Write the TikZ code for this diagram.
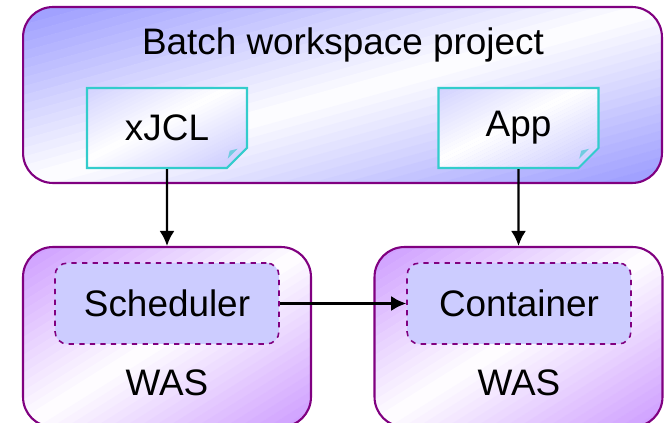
\documentclass[tikz,border=0pt]{standalone}
\usepackage{fontspec}
\setmainfont{Liberation Sans}
\usetikzlibrary{positioning}
\usetikzlibrary{shapes.misc}
\usetikzlibrary{arrows.meta}

\definecolor{plum}{RGB}{128,0,128}
\definecolor{lavblue}{RGB}{153,153,255}
\definecolor{lavpurple}{RGB}{204,153,255}
\definecolor{paleblue}{RGB}{204,204,255}
\definecolor{docline}{RGB}{51,204,204}

\tikzset{
  % corner-to-corner gradient: colour, white, colour (#2, #3 = half sizes in px)
  diag fill/.style n args={3}{path picture={
    \begin{scope}[shift={(path picture bounding box.center)}]
      \foreach \k in {0,...,39}{
        \pgfmathsetmacro\ca{-2+0.1*\k}
        \pgfmathsetmacro\cb{\ca+0.105}
        \pgfmathsetmacro\mix{abs(\ca+0.05)*50}
        \fill[#1!\mix!white]
          ({(\ca/2-2)*#2*0.5691pt},{(-\ca/2-2)*#3*0.5691pt}) --
          ({(\ca/2+2)*#2*0.5691pt},{(-\ca/2+2)*#3*0.5691pt}) --
          ({(\cb/2+2)*#2*0.5691pt},{(-\cb/2+2)*#3*0.5691pt}) --
          ({(\cb/2-2)*#2*0.5691pt},{(-\cb/2-2)*#3*0.5691pt}) -- cycle;
      }
    \end{scope}}},
  project/.style={draw=plum, line width=1.2pt, rounded corners=0.6cm,
    diag fill={lavblue}{319.5}{88},
    minimum width=12.78cm, minimum height=3.52cm},
  server/.style={draw=plum, line width=1.2pt, rounded corners=0.6cm,
    diag fill={lavpurple}{144}{90},
    minimum width=5.76cm, minimum height=3.6cm},
  doc/.style={chamfered rectangle, chamfered rectangle corners=south east,
    chamfered rectangle xsep=0.2cm, chamfered rectangle ysep=0.2cm,
    draw=docline, line width=1.2pt, diag fill={paleblue}{80}{40},
    minimum width=3.2cm, minimum height=1.6cm, font=\fontsize{21}{23}\selectfont},
  part/.style={draw=plum, dashed, line width=0.9pt, rounded corners=0.25cm,
    fill=paleblue, minimum width=4.48cm, minimum height=1.62cm,
    font=\fontsize{21}{23}\selectfont},
  big/.style={font=\fontsize{21}{23}\selectfont},
  flow/.style={-{Latex[length=0.3cm,width=0.3cm]}, line width=1.4pt}
}

\begin{document}
\begin{tikzpicture}[x=0.02cm, y=0.02cm]
  \useasboundingbox (0,0) rectangle (668,-422);
  \clip (0,0) rectangle (668,-422);

  % workspace
  \node[project] (proj) at (342.5,-95) {};
  \node[big] (title) at (343,-45) {Batch workspace project};
  \node[doc] (xjcl) at (167,-128) {xJCL};
  \node[doc] (app) at (518.5,-128) {App};
  \fill[docline!60!paleblue] (xjcl.south east) ++(0,10) -- ++(-10,-10) -- ++(2,8) -- cycle;
  \fill[docline!60!paleblue] (app.south east) ++(0,10) -- ++(-10,-10) -- ++(2,8) -- cycle;

  % servers
  \node[server] (wasl) at (167,-337) {};
  \node[server] (wasr) at (518.5,-337) {};
  \node[part] (sched) at (167,-303.5) {Scheduler};
  \node[part] (cont) at (519,-303.5) {Container};
  \node[big] (wasltext) at (167,-383) {WAS};
  \node[big] (wasrtext) at (519,-383) {WAS};

  \draw[flow] (xjcl) -- (wasl);
  \draw[flow] (app) -- (wasr);
  \draw[flow] (sched) -- (cont);
\end{tikzpicture}
\end{document}
